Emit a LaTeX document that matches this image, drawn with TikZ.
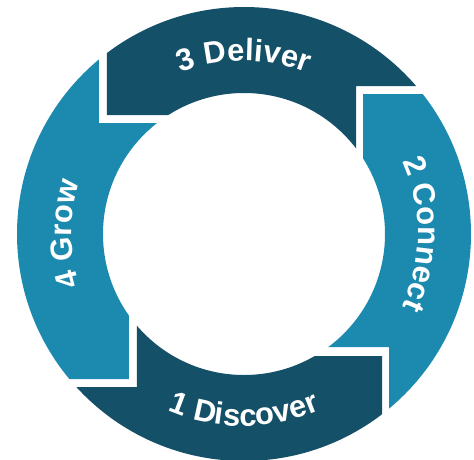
\documentclass[tikz,border=0pt]{standalone}
\usepackage{fontspec}
\setmainfont{Liberation Sans}
\usetikzlibrary{decorations.text}

\definecolor{ringdark}{RGB}{20,80,104}
\definecolor{ringlight}{RGB}{28,138,174}

\tikzset{
    segment/.style={fill=#1, even odd rule},
    steplabel/.style={
        decorate,
        decoration={text along path, text align=center, text color=white,
            text={|\fontsize{31}{31}\selectfont\bfseries|#1}}
    }
}

\begin{document}
\begin{tikzpicture}[x=1pt, y=1pt]
\useasboundingbox (-244,-225) rectangle (230,234);

% Ring pieces, each one clipped to its own stepped window
% 3 Deliver (top)
\begin{scope}
    \clip (-137,119) -- (-137,300) -- (300,300) -- (300,148) -- (112,148) -- (112,0) -- (0,0) -- (-60,119) -- cycle;
    \fill[segment=ringdark] (0,0) circle[radius=227] (0,0) circle[radius=141];
\end{scope}

% 2 Connect (right)
\begin{scope}
    \clip (119,140) -- (300,140) -- (300,-300) -- (145,-300) -- (145,-113) -- (60,-113) -- (0,0) -- (119,60) -- cycle;
    \fill[segment=ringlight] (0,0) circle[radius=227] (0,0) circle[radius=141];
\end{scope}

% 1 Discover (bottom)
\begin{scope}
    \clip (138,-122) -- (138,-300) -- (-300,-300) -- (-300,-153) -- (-107,-153) -- (-107,-60) -- (0,0) -- (60,-122) -- cycle;
    \fill[segment=ringdark] (0,0) circle[radius=227] (0,0) circle[radius=141];
\end{scope}

% 4 Grow (left)
\begin{scope}
    \clip (-115,-145) -- (-300,-145) -- (-300,300) -- (-145,300) -- (-145,111) -- (-60,111) -- (0,0) -- (-115,-60) -- cycle;
    \fill[segment=ringlight] (0,0) circle[radius=227] (0,0) circle[radius=141];
\end{scope}

% Labels along the ring
\path[steplabel={3 Deliver}] (150:173) arc[start angle=150, end angle=30, radius=173];
\path[steplabel={2 Connect}] (60:174) arc[start angle=60, end angle=-60, radius=174];
\path[steplabel={1 Discover}] (210:192) arc[start angle=210, end angle=330, radius=192];
\path[steplabel={4 Grow}] (240:172) arc[start angle=240, end angle=120, radius=172];
\end{tikzpicture}
\end{document}
